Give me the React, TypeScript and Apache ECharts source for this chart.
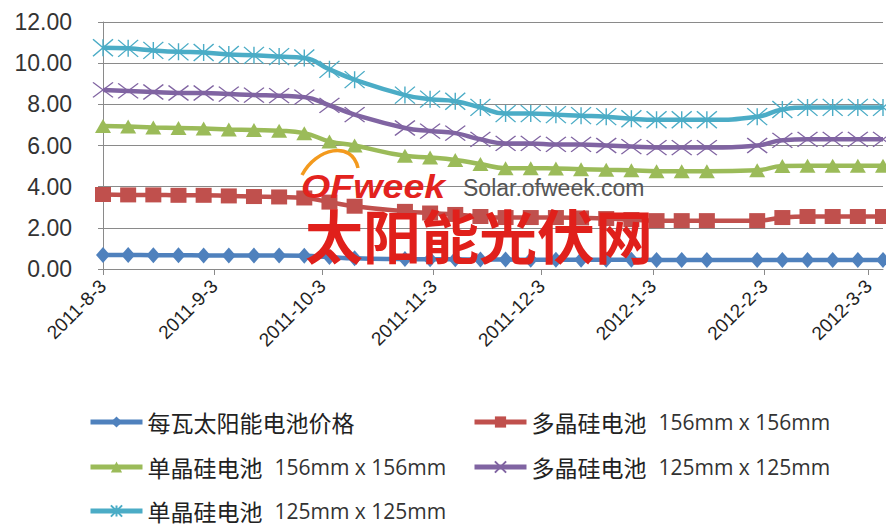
import React, { useEffect, useRef } from "react";
import * as echarts from "echarts";

const dates = [
  "2011-08-03", "2011-08-10", "2011-08-17", "2011-08-24", "2011-08-31",
  "2011-09-07", "2011-09-14", "2011-09-21", "2011-09-28", "2011-10-05",
  "2011-10-12", "2011-10-26", "2011-11-02", "2011-11-09", "2011-11-16",
  "2011-11-23", "2011-11-30", "2011-12-07", "2011-12-14", "2011-12-21",
  "2011-12-28", "2012-01-04", "2012-01-11", "2012-01-18", "2012-02-01",
  "2012-02-08", "2012-02-15", "2012-02-22", "2012-02-29", "2012-03-07",
];

const tickLabels = [
  "2011-8-3", "2011-9-3", "2011-10-3", "2011-11-3",
  "2011-12-3", "2012-1-3", "2012-2-3", "2012-3-3",
];

const perWatt = [
  0.68, 0.68, 0.67, 0.67, 0.66, 0.66, 0.65, 0.65, 0.64, 0.58,
  0.52, 0.48, 0.47, 0.47, 0.46, 0.46, 0.45, 0.45, 0.45, 0.45,
  0.45, 0.44, 0.44, 0.44, 0.44, 0.44, 0.44, 0.44, 0.44, 0.44,
];
const poly156 = [
  3.62, 3.6, 3.6, 3.58, 3.58, 3.55, 3.52, 3.5, 3.45, 3.25,
  3.05, 2.8, 2.72, 2.65, 2.55, 2.5, 2.5, 2.5, 2.48, 2.45,
  2.4, 2.35, 2.35, 2.35, 2.35, 2.5, 2.55, 2.55, 2.55, 2.55,
];
const mono156 = [
  6.95, 6.92, 6.88, 6.85, 6.82, 6.78, 6.75, 6.72, 6.6, 6.2,
  6.0, 5.5, 5.42, 5.3, 5.1, 4.9, 4.9, 4.88, 4.85, 4.82,
  4.8, 4.75, 4.75, 4.75, 4.8, 5.0, 5.02, 5.02, 5.02, 5.02,
];
const poly125 = [
  8.7, 8.65, 8.6, 8.55, 8.55, 8.5, 8.45, 8.42, 8.35, 7.95,
  7.5, 6.85, 6.7, 6.6, 6.3, 6.1, 6.1, 6.05, 6.05, 6.0,
  5.95, 5.9, 5.9, 5.9, 6.0, 6.25, 6.3, 6.3, 6.3, 6.3,
];
const mono125 = [
  10.75, 10.72, 10.62, 10.55, 10.52, 10.42, 10.38, 10.32, 10.25, 9.7,
  9.2, 8.45, 8.25, 8.15, 7.85, 7.55, 7.55, 7.5, 7.45, 7.4,
  7.3, 7.25, 7.25, 7.25, 7.4, 7.75, 7.85, 7.85, 7.85, 7.85,
];

const seriesNames = [
  "每瓦太阳能电池价格",
  "多晶硅电池 156mm x 156mm",
  "单晶硅电池 156mm x 156mm",
  "多晶硅电池 125mm x 125mm",
  "单晶硅电池 125mm x 125mm",
];

const toTs = (s: string) => {
  const [y, m, d] = s.split("-").map(Number);
  return Date.UTC(y, m - 1, d);
};

const fmt = (v: number) => {
  const d = new Date(v);
  return `${d.getUTCFullYear()}-${d.getUTCMonth() + 1}-${d.getUTCDate()}`;
};

export default function App() {
  const ref = useRef<HTMLDivElement>(null);

  useEffect(() => {
    if (!ref.current) return;
    const chart = echarts.init(ref.current, null, { renderer: "svg" });
    const xs = dates.map(toTs);
    const pair = (vals: number[]) => vals.map((v, i) => [xs[i], v]);
    const gridColor = "#8a8a8a";

    const mk = (
      name: string,
      vals: number[],
      color: string,
      symbol: string,
      size: number[] | number,
      hollow = false
    ) => ({
      name,
      type: "line",
      data: pair(vals),
      smooth: true,
      symbol,
      symbolSize: size,
      showAllSymbol: true,
      lineStyle: { width: 4.5, color },
      itemStyle: hollow
        ? { color, borderColor: color, borderWidth: 1.3 }
        : { color, borderWidth: 0 },
      z: 2,
    });

    const legendText = (name: string) => {
      const idx = name.indexOf(" ");
      if (idx < 0) return `{c|${name}}`;
      return `{c|${name.slice(0, idx)}}{l|${name.slice(idx + 1)}}`;
    };

    const legendItem = (name: string, left: number, centerY: number) => ({
      orient: "horizontal",
      left,
      top: centerY - 12,
      padding: 0,
      itemWidth: 52,
      itemHeight: 14,
      selectedMode: false,
      formatter: legendText,
      lineStyle: { width: 5 },
      data: [name],
      textStyle: {
        color: "#222",
        lineHeight: 24,
        rich: {
          c: { fontSize: 23, fontFamily: "Noto Sans CJK SC", color: "#222", lineHeight: 24 },
          l: {
            fontSize: 21,
            fontFamily: "Open Sans",
            color: "#333",
            lineHeight: 24,
            padding: [0, 0, 0, 12],
          },
        },
      },
    });

    chart.setOption({
      animation: false,
      backgroundColor: "#ffffff",
      grid: { left: 103, right: 3, top: 22, bottom: 260, containLabel: false },
      xAxis: {
        type: "value",
        min: toTs("2011-08-03"),
        max: toTs("2012-03-07"),
        axisLine: { show: true, lineStyle: { color: gridColor, width: 1 } },
        axisTick: {
          show: true,
          length: 6,
          customValues: tickLabels.map(toTs),
          lineStyle: { color: gridColor },
        },
        axisLabel: {
          customValues: tickLabels.map(toTs),
          formatter: (v: number) => fmt(v),
          rotate: 45,
          margin: 14,
          fontSize: 19,
          fontFamily: "Liberation Sans",
          color: "#222",
        },
        splitLine: { show: false },
      },
      yAxis: {
        type: "value",
        min: 0,
        max: 12,
        interval: 2,
        axisLine: { show: true, lineStyle: { color: gridColor, width: 1 } },
        axisTick: { show: true, length: 5, lineStyle: { color: gridColor } },
        axisLabel: {
          formatter: (v: number) => v.toFixed(2),
          fontSize: 23,
          fontFamily: "Liberation Sans",
          color: "#333",
          margin: 31,
        },
        splitLine: { show: true, lineStyle: { color: gridColor, width: 1 } },
      },
      legend: [
        legendItem(seriesNames[0], 88, 422),
        legendItem(seriesNames[1], 472, 422),
        legendItem(seriesNames[2], 88, 467),
        legendItem(seriesNames[3], 472, 467),
        legendItem(seriesNames[4], 88, 511),
      ],
      series: [
        mk(seriesNames[0], perWatt, "#4F81BD", "diamond", [14, 16]),
        mk(seriesNames[1], poly156, "#C0504D", "rect", [16, 15]),
        mk(seriesNames[2], mono156, "#9BBB59", "triangle", [16, 14]),
        mk(
          seriesNames[3],
          poly125,
          "#8064A2",
          "path://M0,0L10,7M10,0L0,7",
          [20, 15],
          true
        ),
        mk(
          seriesNames[4],
          mono125,
          "#4BACC6",
          "path://M0,0L10,8M10,0L0,8M5,0L5,8",
          [20, 17],
          true
        ),
      ],
      graphic: [
        {
          type: "bezierCurve",
          z: 100,
          shape: {
            x1: 302, y1: 175, cpx1: 316, cpy1: 148,
            cpx2: 352, cpy2: 140, x2: 358, y2: 168,
          },
          style: { stroke: "#f39a1e", lineWidth: 3.5, fill: "none" },
        },
        {
          type: "text",
          z: 100,
          x: 301,
          y: 186,
          scaleX: 1.14,
          style: {
            text: "OFweek",
            fontSize: 33,
            fontWeight: "bold",
            fontStyle: "italic",
            fontFamily: "Liberation Sans",
            fill: "#e3231e",
            verticalAlign: "middle",
          },
        },
        {
          type: "text",
          z: 100,
          x: 463,
          y: 188,
          style: {
            text: "Solar.ofweek.com",
            fontSize: 23,
            lineHeight: 20,
            fontFamily: "Liberation Sans",
            fill: "#555555",
            verticalAlign: "middle",
          },
        },
        {
          type: "text",
          z: 100,
          x: 305,
          y: 234,
          style: {
            text: "太阳能光伏网",
            fontSize: 58,
            lineHeight: 52,
            fontWeight: "bold",
            fontFamily: "Noto Sans CJK SC",
            fill: "#e0201b",
            verticalAlign: "middle",
          },
        },
      ],
    });

    return () => chart.dispose();
  }, []);

  return (
    <div
      ref={ref}
      style={{
        position: "fixed",
        left: 0,
        top: 0,
        width: 886,
        height: 529,
        background: "#fff",
      }}
    />
  );
}
